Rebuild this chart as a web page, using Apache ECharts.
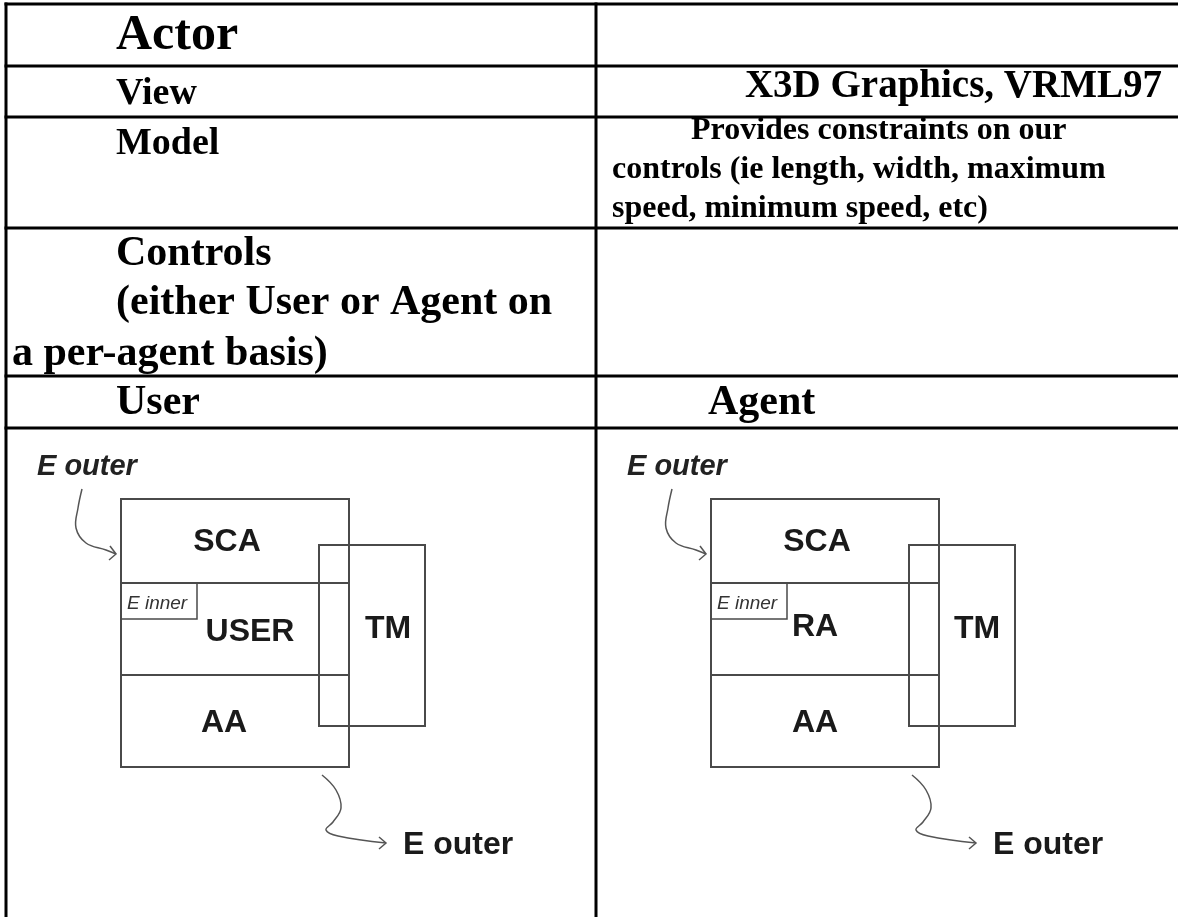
<!DOCTYPE html>
<html>
<head>
<meta charset="utf-8">
<script src="https://cdn.jsdelivr.net/npm/echarts@6/dist/echarts.min.js"></script>
<style>
html,body{margin:0;padding:0;background:#fff;}
#chart{width:1178px;height:917px;}
</style>
</head>
<body>
<div id="chart"></div>
<script>
// ---------- content (texts) ----------
const leftCellTexts = ['Actor', 'View', 'Model', 'Controls', '(either User or Agent on', 'a per-agent basis)', 'User'];
const rightCellTexts = ['X3D Graphics, VRML97', 'Provides constraints on our', 'controls (ie length, width, maximum', 'speed, minimum speed, etc)', 'Agent'];
const userBoxLabels = ['SCA', 'USER', 'TM', 'AA'];
const agentBoxLabels = ['SCA', 'RA', 'TM', 'AA'];
const flowLabels = ['E outer', 'E inner', 'E outer'];

// ---------- table structure (data-space rules) ----------
const rowRules = [4, 66, 117, 228, 376, 428];
const colRules = [6, 596];

// ---------- layout (positions / sizes, kept apart from the content) ----------
const W = 1178, H = 917;
const leftCellLayout = [
  {x: 116, y: 36, size: 50},
  {x: 116, y: 94, size: 38},
  {x: 116, y: 144, size: 38},
  {x: 116, y: 254, size: 42},
  {x: 116, y: 303, size: 42},
  {x: 12, y: 354, size: 42},
  {x: 116, y: 403, size: 42}
];
const rightCellLayout = [
  {x: 1162, y: 87, size: 39, align: 'right'},
  {x: 691, y: 131, size: 32},
  {x: 612, y: 170, size: 32},
  {x: 612, y: 209, size: 32},
  {x: 708, y: 403, size: 42}
];
const diagramOffsets = [0, 590];
const diagramLabelSets = [userBoxLabels, agentBoxLabels];
const boxLabelLayout = [
  [{x: 227, y: 542}, {x: 250, y: 632}, {x: 388, y: 629}, {x: 224, y: 723}],
  [{x: 227, y: 542}, {x: 225, y: 627}, {x: 387, y: 629}, {x: 225, y: 723}]
];
const outerBox = [121, 499, 349, 767];
const boxDividers = [583, 675];
const tmBox = [319, 545, 425, 726];
const innerBox = [121, 583, 197, 619];
const topArrow = [[82, 489], [78, 508], [76, 528], [86, 543], [106, 550], [116, 554]];
const topArrowHead = [[110, 546], [116, 554], [109, 560]];
const bottomArrow = [[322, 775], [336, 790], [341, 808], [333, 822], [326, 830], [338, 836], [386, 843]];
const bottomArrowHead = [[379, 837], [386, 843], [379, 849]];

const SERIF = '"Liberation Serif", "Times New Roman", serif';
const SANS = '"Liberation Sans", Arial, sans-serif';

// ---------- build text item list ----------
const textItems = [];
leftCellTexts.forEach((t, i) => {
  const L = leftCellLayout[i];
  textItems.push({text: t, x: L.x, y: L.y, font: 'bold ' + L.size + 'px ' + SERIF, align: 'left', color: '#000'});
});
rightCellTexts.forEach((t, i) => {
  const L = rightCellLayout[i];
  textItems.push({text: t, x: L.x, y: L.y, font: 'bold ' + L.size + 'px ' + SERIF, align: L.align || 'left', color: '#000'});
});
diagramOffsets.forEach((off, d) => {
  diagramLabelSets[d].forEach((t, i) => {
    const L = boxLabelLayout[d][i];
    textItems.push({text: t, x: L.x + off, y: L.y, font: 'bold 32px ' + SANS, align: 'center', color: '#1a1a1a'});
  });
  textItems.push({text: flowLabels[0], x: 37 + off, y: 467, font: 'italic bold 29px ' + SANS, align: 'left', color: '#222'});
  textItems.push({text: flowLabels[1], x: 127 + off, y: 604, font: 'italic 19px ' + SANS, align: 'left', color: '#333'});
  textItems.push({text: flowLabels[2], x: 403 + off, y: 845, font: 'bold 32px ' + SANS, align: 'left', color: '#1a1a1a'});
});

const chart = echarts.init(document.getElementById('chart'), null, {renderer: 'canvas'});

function toPts(api, pts, off) {
  return pts.map(p => api.coord([p[0] + off, p[1]]));
}
function rectShape(api, b, off) {
  const p = api.coord([b[0] + off, b[1]]);
  const q = api.coord([b[2] + off, b[3]]);
  return {x: p[0], y: p[1], width: q[0] - p[0], height: q[1] - p[1]};
}

const option = {
  animation: false,
  backgroundColor: '#fff',
  grid: {left: 0, right: 0, top: 0, bottom: 0, containLabel: false},
  xAxis: {type: 'value', min: 0, max: W, show: false},
  yAxis: {type: 'value', min: 0, max: H, inverse: true, show: false},
  series: [
    {
      type: 'custom', clip: false, silent: true,
      data: rowRules.map(y => [0, y]),
      renderItem: function (params, api) {
        const y = api.value(1);
        const p = api.coord([colRules[0] - 1.5, y]);
        const q = api.coord([W, y]);
        return {type: 'line', shape: {x1: p[0], y1: p[1], x2: q[0], y2: q[1]}, style: {stroke: '#000', lineWidth: 3}};
      }
    },
    {
      type: 'custom', clip: false, silent: true,
      data: colRules.map(x => [x, 0]),
      renderItem: function (params, api) {
        const x = api.value(0);
        const p = api.coord([x, rowRules[0] - 1.5]);
        const q = api.coord([x, H]);
        return {type: 'line', shape: {x1: p[0], y1: p[1], x2: q[0], y2: q[1]}, style: {stroke: '#000', lineWidth: 3}};
      }
    },
    {
      type: 'custom', clip: false, silent: true,
      data: diagramOffsets.map(o => [o, 0]),
      renderItem: function (params, api) {
        const off = api.value(0);
        const stroke = '#4a4a4a';
        const children = [];
        children.push({type: 'rect', shape: rectShape(api, outerBox, off), style: {fill: null, stroke: stroke, lineWidth: 2}});
        boxDividers.forEach(y => {
          const p = api.coord([outerBox[0] + off, y]), q = api.coord([outerBox[2] + off, y]);
          children.push({type: 'line', shape: {x1: p[0], y1: p[1], x2: q[0], y2: q[1]}, style: {stroke: stroke, lineWidth: 2}});
        });
        children.push({type: 'rect', shape: rectShape(api, tmBox, off), style: {fill: null, stroke: stroke, lineWidth: 2}});
        children.push({type: 'rect', shape: rectShape(api, innerBox, off), style: {fill: null, stroke: stroke, lineWidth: 1.5}});
        children.push({type: 'polyline', shape: {points: toPts(api, topArrow, off), smooth: 0.4}, style: {fill: null, stroke: '#555', lineWidth: 1.5}});
        children.push({type: 'polyline', shape: {points: toPts(api, topArrowHead, off)}, style: {fill: null, stroke: '#555', lineWidth: 1.5}});
        children.push({type: 'polyline', shape: {points: toPts(api, bottomArrow, off), smooth: 0.4}, style: {fill: null, stroke: '#555', lineWidth: 1.5}});
        children.push({type: 'polyline', shape: {points: toPts(api, bottomArrowHead, off)}, style: {fill: null, stroke: '#555', lineWidth: 1.5}});
        return {type: 'group', children: children};
      }
    },
    {
      type: 'custom', clip: false, silent: true,
      data: textItems.map(t => [t.x, t.y]),
      renderItem: function (params, api) {
        const t = textItems[params.dataIndex];
        const p = api.coord([api.value(0), api.value(1)]);
        return {
          type: 'text',
          style: {text: t.text, x: p[0], y: p[1], font: t.font, fill: t.color, align: t.align, verticalAlign: 'middle'}
        };
      }
    }
  ]
};
chart.setOption(option);
</script>
</body>
</html>
